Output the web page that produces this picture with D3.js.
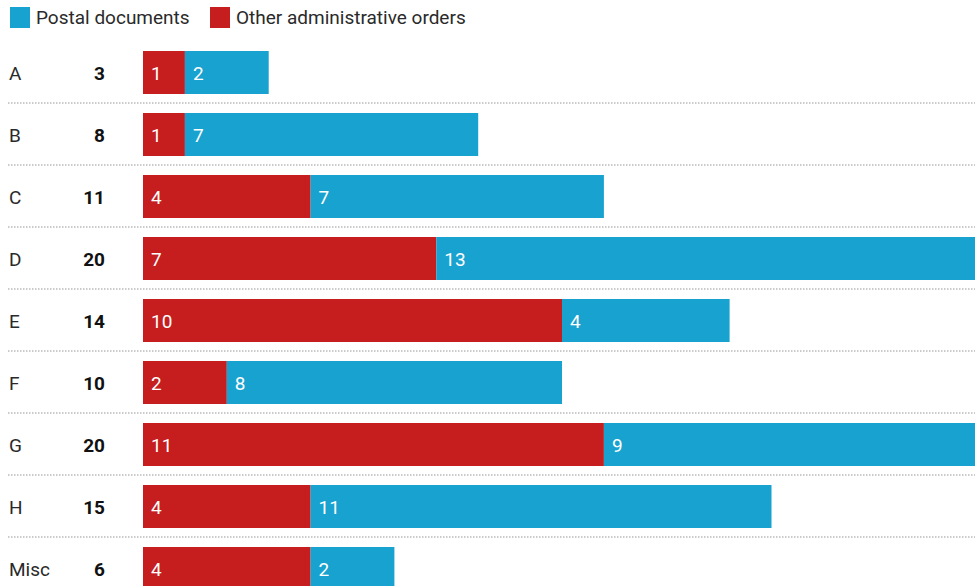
<!DOCTYPE html>
<html>
<head>
<meta charset="utf-8">
<script src="https://cdn.jsdelivr.net/npm/d3@7"></script>
<style>
  body { margin: 0; background: #fff; }
  svg { display: block; font-family: Roboto, "Noto Sans", sans-serif; }
</style>
</head>
<body>
<div id="chart"></div>
<script>
var width = 975;
var height = 586;

var categories = ["A", "B", "C", "D", "E", "F", "G", "H", "Misc"];
var otherOrders = [1, 1, 4, 7, 10, 2, 11, 4, 4];
var postalDocs = [2, 7, 7, 13, 4, 8, 9, 11, 2];
var seriesNames = ["Postal documents", "Other administrative orders"];

var red = "#c61d1e";
var blue = "#18a2cf";
var fontSize = "19px";

var svg = d3.select("#chart")
            .append("svg")
            .attr("width", width)
            .attr("height", height);

var x = d3.scaleLinear()
          .domain([0, 20])
          .range([143, 981]);

var y = d3.scaleBand()
          .domain(categories)
          .range([41, 41 + 62 * categories.length])
          .padding(0);

var barOffset = 10;
var barHeight = 43;
var textShift = 7;

// legend
var legendItems = [
    {name: seriesNames[0], color: blue, x: 10},
    {name: seriesNames[1], color: red, x: 210}
];
var legend = svg.selectAll("g.legend")
                .data(legendItems)
                .enter()
                .append("g")
                .attr("transform", d => "translate(" + d.x + ",0)");
legend.append("rect")
      .attr("x", 0)
      .attr("y", 7)
      .attr("width", 20)
      .attr("height", 21)
      .attr("fill", d => d.color);
legend.append("text")
      .attr("x", 26)
      .attr("y", 24)
      .style("font-size", fontSize)
      .attr("fill", "#2a2a2a")
      .text(d => d.name);

// dotted separators
svg.selectAll("line.sep")
   .data(categories.slice(0, -1))
   .enter()
   .append("line")
   .attr("x1", 8)
   .attr("x2", width)
   .attr("y1", d => y(d) + y.bandwidth())
   .attr("y2", d => y(d) + y.bandwidth())
   .attr("stroke", "#bbb")
   .attr("stroke-width", 1.5)
   .attr("stroke-dasharray", "1.5,1.5");

var rows = svg.selectAll("g.row")
              .data(categories)
              .enter()
              .append("g")
              .attr("class", "row");

var midY = d => y(d) + barOffset + barHeight / 2 + textShift;

// category labels
rows.append("text")
    .attr("x", 9)
    .attr("y", midY)
    .style("font-size", fontSize)
    .attr("fill", "#2a2a2a")
    .text(d => d);

// totals
rows.append("text")
    .attr("x", 105)
    .attr("y", midY)
    .style("text-anchor", "end")
    .style("font-size", fontSize)
    .style("font-weight", "bold")
    .attr("fill", "#111")
    .text((d, i) => otherOrders[i] + postalDocs[i]);

// red segments
rows.append("rect")
    .attr("x", x(0))
    .attr("y", d => y(d) + barOffset)
    .attr("width", (d, i) => x(otherOrders[i]) - x(0))
    .attr("height", barHeight)
    .attr("fill", red);

// blue segments
rows.append("rect")
    .attr("x", (d, i) => x(otherOrders[i]))
    .attr("y", d => y(d) + barOffset)
    .attr("width", (d, i) => x(otherOrders[i] + postalDocs[i]) - x(otherOrders[i]))
    .attr("height", barHeight)
    .attr("fill", blue);

// value labels
rows.append("text")
    .attr("x", x(0) + 8)
    .attr("y", midY)
    .style("font-size", fontSize)
    .attr("fill", "#fff")
    .text((d, i) => otherOrders[i]);

rows.append("text")
    .attr("x", (d, i) => x(otherOrders[i]) + 8)
    .attr("y", midY)
    .style("font-size", fontSize)
    .attr("fill", "#fff")
    .text((d, i) => postalDocs[i]);
</script>
</body>
</html>
